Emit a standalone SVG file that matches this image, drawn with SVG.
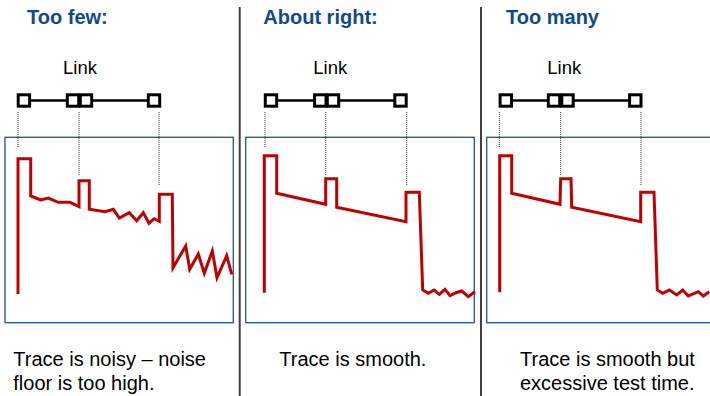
<svg xmlns="http://www.w3.org/2000/svg" width="710" height="396" viewBox="0 0 710 396">
<style>
.title{font-family:"Liberation Sans",Arial,sans-serif;font-weight:bold;font-size:20px;fill:#0f4a8c}
.link{font-family:"Liberation Sans",Arial,sans-serif;font-size:18.5px;fill:#000}
.cap{font-family:"Liberation Sans",Arial,sans-serif;font-size:20px;fill:#000}
.box{fill:none;stroke:#2d5f96;stroke-width:1.4}
.sq{fill:#fff;stroke:#000;stroke-width:3}
.ln{stroke:#000;stroke-width:2.5}
.dot{stroke:#333;stroke-width:1;stroke-dasharray:1 1;fill:none}
.trace{fill:none;stroke:#c00000;stroke-width:3;stroke-linejoin:miter}
.div{stroke:#404040;stroke-width:2}
</style>
<rect width="710" height="396" fill="#fff"/>
<g id="dividers">
<line class="div" x1="239.7" y1="7" x2="239.7" y2="396"/>
<line class="div" x1="481" y1="7" x2="481" y2="396"/>
</g>
<g id="panel-few">
<text class="title" x="27" y="24">Too few:</text>
<text class="link" x="63" y="74">Link</text>
<line class="ln" x1="24" y1="100.5" x2="154" y2="100.5"/>
<rect class="sq" x="18.2" y="94.8" width="11.4" height="11.4"/>
<rect class="sq" x="67.3" y="94.8" width="11.4" height="11.4"/>
<rect class="sq" x="80.3" y="94.8" width="11.4" height="11.4"/>
<rect class="sq" x="148.3" y="94.8" width="11.4" height="11.4"/>
<line class="dot" x1="18" y1="112" x2="18" y2="148"/>
<line class="dot" x1="79" y1="112" x2="79" y2="175"/>
<line class="dot" x1="159" y1="112" x2="159" y2="186"/>
<rect class="box" x="5" y="137.3" width="228.3" height="185.4"/>
<polyline class="trace" points="18,294 18,158.7 30.7,158.7 30.7,196 40.7,200 48.3,198 58.3,202.3 70,202.3 79,206.7 79,180.7 89.3,180.7 89.3,209.3 105,211.7 113.3,209.3 119.3,218 129.3,212.7 136.7,220.7 143.3,212.7 149,223.3 154,218.7 159.3,221.3 159.3,194.3 172.3,194.3 173,267.7 185.7,246 189.7,269.3 198.3,254 204.3,273.3 212.3,251 217,277.7 226.7,255.7 231.7,274.3"/>
<text class="cap" x="13.3" y="365.7">Trace is noisy – noise</text>
<text class="cap" x="13.3" y="390">floor is too high.</text>
</g>
<g id="panel-right">
<text class="title" x="263.3" y="24">About right:</text>
<text class="link" x="313.3" y="74">Link</text>
<line class="ln" x1="271" y1="100.5" x2="400.5" y2="100.5"/>
<rect class="sq" x="265.3" y="94.8" width="11.4" height="11.4"/>
<rect class="sq" x="314.6" y="94.8" width="11.4" height="11.4"/>
<rect class="sq" x="327.3" y="94.8" width="11.4" height="11.4"/>
<rect class="sq" x="394.8" y="94.8" width="11.4" height="11.4"/>
<line class="dot" x1="265" y1="112" x2="265" y2="148"/>
<line class="dot" x1="325.7" y1="112" x2="325.7" y2="175"/>
<line class="dot" x1="406.7" y1="112" x2="406.7" y2="186"/>
<rect class="box" x="245.7" y="137.3" width="228.6" height="185.4"/>
<polyline class="trace" points="264.3,292.7 264.3,155.7 276.7,155.7 276.7,193.3 325.7,204.3 325.7,178.7 336.7,178.7 336.7,207.3 406,221.7 406,192.3 419.3,192.3 422.7,290 428.3,293.3 434,290 439.3,294.3 445,289.3 450,295.7 456,292.7 461.7,291 468.3,296.7 475,291.7"/>
<text class="cap" x="279.3" y="365.7">Trace is smooth.</text>
</g>
<g id="panel-many">
<text class="title" x="506" y="24">Too many</text>
<text class="link" x="547.3" y="74">Link</text>
<line class="ln" x1="505.8" y1="100.5" x2="635.3" y2="100.5"/>
<rect class="sq" x="500.1" y="94.8" width="11.4" height="11.4"/>
<rect class="sq" x="548.3" y="94.8" width="11.4" height="11.4"/>
<rect class="sq" x="561.8" y="94.8" width="11.4" height="11.4"/>
<rect class="sq" x="629.6" y="94.8" width="11.4" height="11.4"/>
<line class="dot" x1="499.3" y1="112" x2="499.3" y2="148"/>
<line class="dot" x1="560.7" y1="112" x2="560.7" y2="175"/>
<line class="dot" x1="641" y1="112" x2="641" y2="186"/>
<rect class="box" x="486.7" y="137.3" width="226" height="185.4"/>
<polyline class="trace" points="499.7,292.3 499.7,155.7 511.7,155.7 511.7,193.3 560,204.3 560.7,178.7 571,178.7 571.7,207.3 640.7,221.7 640.7,192.3 654,192.3 657.3,290 662.7,293.3 669.3,290 676.7,295 682.7,290 688.3,296 698.3,291.7 703.3,296 709.3,291.7"/>
<text class="cap" x="520" y="365.7">Trace is smooth but</text>
<text class="cap" x="520" y="390">excessive test time.</text>
</g>
</svg>
